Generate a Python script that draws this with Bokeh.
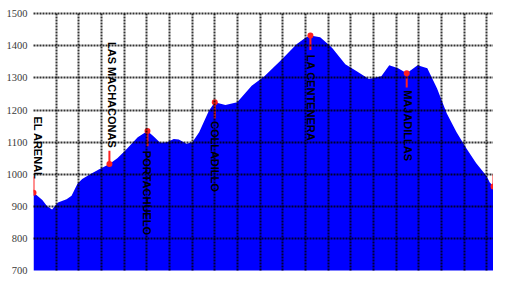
import math
from bokeh.plotting import figure
from bokeh.models import FixedTicker, ColumnDataSource
from bokeh.core.properties import value
from bokeh.embed import file_html
from bokeh.resources import INLINE

# distance (grid units) and elevation (m)
dist = [0, 0.13, 0.39, 0.6, 0.82, 1.08, 1.46, 1.68, 1.94, 2.15, 2.5, 2.88, 3.35, 3.7,
        4.04, 4.6, 5.03, 5.33, 5.59, 5.89, 6.19, 6.41, 6.75, 7.01, 7.31, 7.74, 8.0,
        8.47, 8.99, 9.63, 10.19, 10.92, 11.61, 12.0, 12.22, 12.65, 13.08, 13.2, 13.76,
        14.28, 14.8, 15.35, 15.7, 16.09, 16.47, 16.95, 17.38, 17.81, 18.24, 18.67,
        19.1, 19.53, 20.0, 20.13, 20.3]
elev = [942, 935, 920, 900, 890, 912, 922, 933, 970, 985, 1000, 1015, 1032, 1050,
        1073, 1115, 1135, 1116, 1098, 1100, 1110, 1108, 1095, 1100, 1131, 1198, 1224,
        1216, 1224, 1276, 1305, 1355, 1405, 1425, 1432, 1427, 1400, 1392, 1343,
        1320, 1297, 1305, 1340, 1330, 1315, 1340, 1330, 1267, 1189, 1131,
        1081, 1035, 994, 975, 962]

# waypoints
wp_x = [0, 3.35, 5.03, 8.0, 12.22, 16.47, 20.3]
wp_elev = [942, 1032, 1135, 1224, 1432, 1315, 962]
wp_tick_end = [994, 1073, 1087, 1174, 1387, 1270, 1000]
wp_names = ["EL ARENAL", "LAS MACHACONAS", "PORTACHUELO", "COLLADILLO",
            "LA CENTENERA", "MAJADILLAS", ""]
label_x = [0.2, 3.48, 5.03, 8.0, 12.26, 16.52, 20.3]
label_top = [1180, 1412, 1073, 1166, 1372, 1262, 1000]

y_ticks = [700, 800, 900, 1000, 1100, 1200, 1300, 1400, 1500]
x_ticks = list(range(0, 21))

p = figure(width=493, height=276, output_backend="svg", toolbar_location=None,
           x_range=(0, 20.3), y_range=(700, 1504),
           min_border_left=33, min_border_right=0, min_border_top=12, min_border_bottom=6)
p.outline_line_color = None
p.background_fill_color = "white"
p.border_fill_color = "white"

p.varea(x=dist, y1=[600] * len(dist), y2=elev, fill_color="#0000ff", fill_alpha=1.0)

src = ColumnDataSource(dict(x=wp_x, y0=wp_elev, y1=wp_tick_end))
p.segment(x0="x", y0="y0", x1="x", y1="y1", source=src, line_color="#ff2020", line_width=2)
p.scatter(x="x", y="y0", source=src, size=6, fill_color="#ff2020", line_color=None)

lsrc = ColumnDataSource(dict(x=label_x, y=label_top, t=wp_names))
p.text(x="x", y="y", text="t", source=lsrc, angle=-math.pi / 2,
       text_align="left", text_baseline="middle", text_font=value("Liberation Sans"),
       text_font_style="bold", text_font_size="11px", text_color="black")

p.xaxis.visible = False
p.yaxis.ticker = FixedTicker(ticks=y_ticks)
p.yaxis.axis_line_color = None
p.yaxis.major_tick_line_color = None
p.yaxis.minor_tick_line_color = None
p.yaxis.major_label_standoff = 0
p.yaxis.major_label_text_font = "Liberation Serif"
p.yaxis.major_label_text_font_size = "10.5px"
p.yaxis.major_label_text_color = "#3a3a3a"

p.xgrid.ticker = FixedTicker(ticks=x_ticks)
p.ygrid.ticker = FixedTicker(ticks=y_ticks)
for g in (p.xgrid, p.ygrid):
    g.grid_line_color = "black"
    g.grid_line_width = 2
    g.grid_line_alpha = 0.8
    g.grid_line_dash = "2 1"
    g.level = "guide"

open("out.html", "w").write(file_html(p, INLINE))
